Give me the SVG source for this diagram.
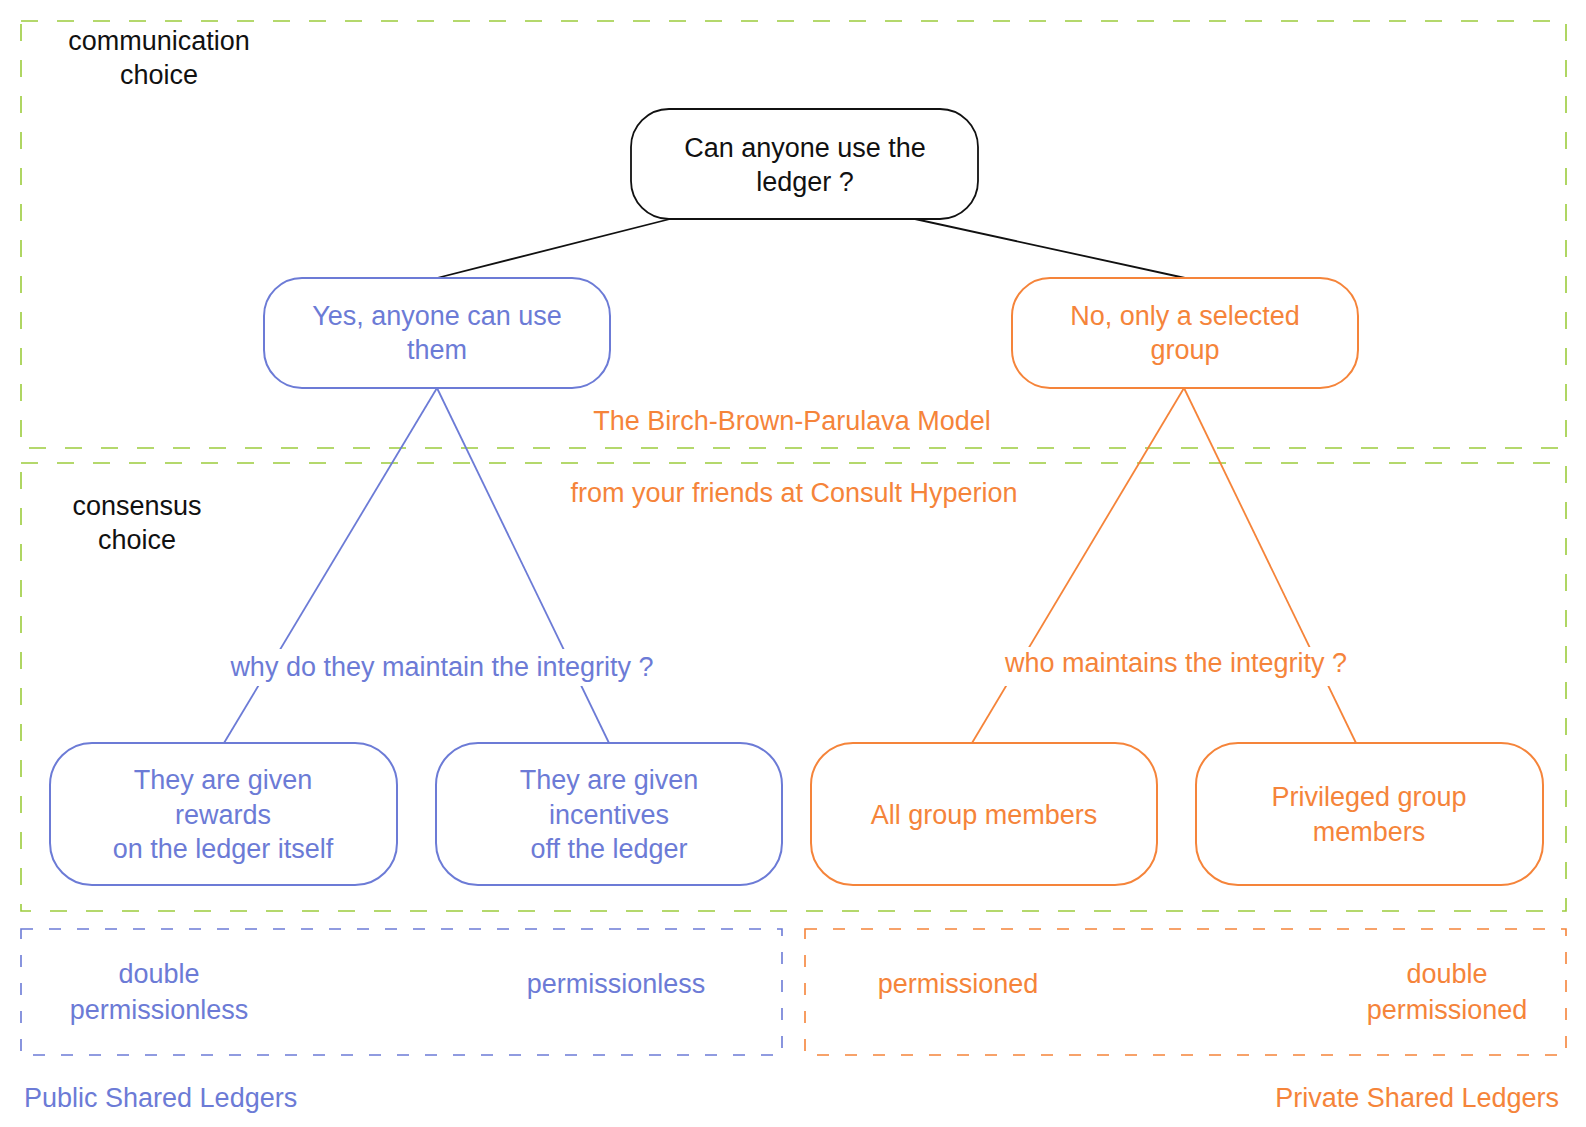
<svg xmlns="http://www.w3.org/2000/svg" width="1586" height="1127" viewBox="0 0 1586 1127">
<style>
text{font-family:"Liberation Sans",Arial,sans-serif;font-size:27px;text-anchor:middle}
.k{fill:#111}
.b{fill:#6c7bd6}
.o{fill:#f5843a}
.frame{fill:none;stroke:#9ccc3c;stroke-width:1.6;stroke-dasharray:17 19}
.nk{fill:#fff;stroke:#111;stroke-width:1.8}
.nb{fill:#fff;stroke:#6c7bd6;stroke-width:2}
.no{fill:#fff;stroke:#f5843a;stroke-width:2}
.lk{stroke:#111;stroke-width:1.8;fill:none}
.lb{stroke:#6c7bd6;stroke-width:1.8;fill:none}
.lo{stroke:#f5843a;stroke-width:1.8;fill:none}
</style>
<rect width="1586" height="1127" fill="#fff"/>
<g id="frames">
<rect class="frame" x="21" y="21" width="1545" height="427"/>
<rect class="frame" x="21" y="463" width="1545" height="448"/>
<rect x="21" y="929" width="761" height="126" fill="none" stroke="#6c7bd6" stroke-width="1.6" stroke-dasharray="12 16"/>
<rect x="805" y="929" width="761" height="126" fill="none" stroke="#f5843a" stroke-width="1.6" stroke-dasharray="12 16"/>
</g>
<g id="connectors">
<line class="lk" x1="670" y1="219" x2="437" y2="278"/>
<line class="lk" x1="915" y1="219" x2="1185" y2="278"/>
<line class="lb" x1="437" y1="388" x2="224" y2="743"/>
<line class="lb" x1="437" y1="388" x2="609" y2="743"/>
<line class="lo" x1="1184" y1="388" x2="972" y2="743"/>
<line class="lo" x1="1184" y1="388" x2="1356" y2="743"/>
<rect x="215" y="649" width="450" height="37" fill="#fff"/>
<rect x="995" y="647" width="365" height="39" fill="#fff"/>
</g>
<g id="labels">
<text class="k" x="159" y="50">communication</text>
<text class="k" x="159" y="84">choice</text>
<text class="k" x="137" y="515">consensus</text>
<text class="k" x="137" y="549">choice</text>
<text class="o" x="792" y="430">The Birch-Brown-Parulava Model</text>
<text class="o" x="794" y="502">from your friends at Consult Hyperion</text>
<text class="b" x="442" y="676">why do they maintain the integrity ?</text>
<text class="o" x="1176" y="672">who maintains the integrity ?</text>
<text class="b" x="159" y="983">double</text>
<text class="b" x="159" y="1019">permissionless</text>
<text class="b" x="616" y="993">permissionless</text>
<text class="o" x="958" y="993">permissioned</text>
<text class="o" x="1447" y="983">double</text>
<text class="o" x="1447" y="1019">permissioned</text>
<text class="b" x="24" y="1107" style="text-anchor:start">Public Shared Ledgers</text>
<text class="o" x="1559" y="1107" style="text-anchor:end">Private Shared Ledgers</text>
</g>
<g id="n-root">
<rect class="nk" x="631" y="109" width="347" height="110" rx="38"/>
<text class="k" x="805" y="157">Can anyone use the</text>
<text class="k" x="805" y="191">ledger ?</text>
</g>
<g id="n-yes">
<rect class="nb" x="264" y="278" width="346" height="110" rx="38"/>
<text class="b" x="437" y="325">Yes, anyone can use</text>
<text class="b" x="437" y="359">them</text>
</g>
<g id="n-no">
<rect class="no" x="1012" y="278" width="346" height="110" rx="38"/>
<text class="o" x="1185" y="325">No, only a selected</text>
<text class="o" x="1185" y="359">group</text>
</g>
<g id="n-rewards">
<rect class="nb" x="50" y="743" width="347" height="142" rx="42"/>
<text class="b" x="223" y="789">They are given</text>
<text class="b" x="223" y="824">rewards</text>
<text class="b" x="223" y="858">on the ledger itself</text>
</g>
<g id="n-incentives">
<rect class="nb" x="436" y="743" width="346" height="142" rx="42"/>
<text class="b" x="609" y="789">They are given</text>
<text class="b" x="609" y="824">incentives</text>
<text class="b" x="609" y="858">off the ledger</text>
</g>
<g id="n-all">
<rect class="no" x="811" y="743" width="346" height="142" rx="42"/>
<text class="o" x="984" y="824">All group members</text>
</g>
<g id="n-privileged">
<rect class="no" x="1196" y="743" width="347" height="142" rx="42"/>
<text class="o" x="1369" y="806">Privileged group</text>
<text class="o" x="1369" y="841">members</text>
</g>
</svg>
